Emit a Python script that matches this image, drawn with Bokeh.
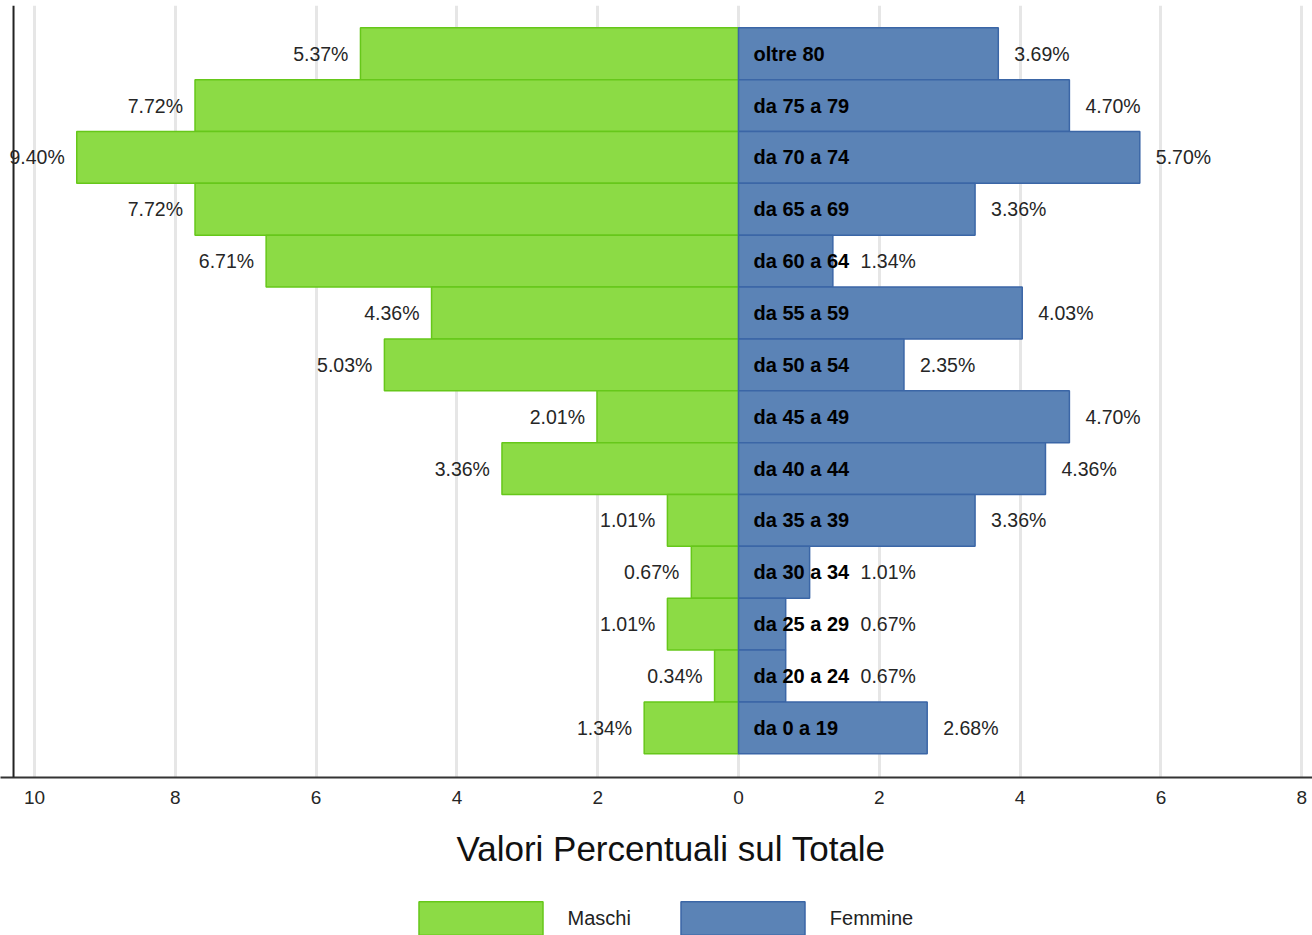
import numpy as np
from bokeh.plotting import figure
from bokeh.layouts import column
from bokeh.models import (ColumnDataSource, FixedTicker, Legend, LegendItem,
                          LabelSet, Range1d, Span)
from bokeh.core.properties import value
from bokeh.embed import file_html
from bokeh.resources import INLINE

# ---- data (top to bottom as in the chart) ----
categories = ["oltre 80", "da 75 a 79", "da 70 a 74", "da 65 a 69", "da 60 a 64",
              "da 55 a 59", "da 50 a 54", "da 45 a 49", "da 40 a 44", "da 35 a 39",
              "da 30 a 34", "da 25 a 29", "da 20 a 24", "da 0 a 19"]
maschi = [5.37, 7.72, 9.40, 7.72, 6.71, 4.36, 5.03, 2.01, 3.36, 1.01, 0.67, 1.01, 0.34, 1.34]
femmine = [3.69, 4.70, 5.70, 3.36, 1.34, 4.03, 2.35, 4.70, 4.36, 3.36, 1.01, 0.67, 0.67, 2.68]
tick_values = [-10, -8, -6, -4, -2, 0, 2, 4, 6, 8]
tick_labels = ["10", "8", "6", "4", "2", "0", "2", "4", "6", "8"]
series_names = ["Maschi", "Femmine"]
axis_title = "Valori Percentuali sul Totale"

# ---- layout / style constants ----
X_START, X_END = -10.483, 8.153
AXIS_X = -10.298          # where the left axis line sits
F_LABEL_MIN = 1.506       # right-side labels are kept clear of the category names
FONT = "Liberation Sans"
GREEN = "#8cdb45"
GREEN_LINE = "#66c71a"
BLUE = "#5b83b6"
BLUE_LINE = "#3b66a6"

n = len(categories)
ypos = [n - 1 - i for i in range(n)]

src = ColumnDataSource(dict(
    y=ypos,
    cat=categories,
    m_left=[-v for v in maschi],
    m_zero=[0] * n,
    f_right=femmine,
    f_lab_x=[max(v, F_LABEL_MIN) for v in femmine],
    m_lab=["%.2f%%" % v for v in maschi],
    f_lab=["%.2f%%" % v for v in femmine],
))

p = figure(frame_width=1312, frame_height=772, output_backend="svg",
           toolbar_location=None,
           x_range=Range1d(X_START, X_END), y_range=Range1d(-0.957, 13.93),
           min_border_left=0, min_border_right=0, min_border_top=5,
           min_border_bottom=103)
p.outline_line_color = None
p.background_fill_color = "white"
p.border_fill_color = "white"

bar_m = dict(fill_color=GREEN, line_color=GREEN_LINE, line_width=1.5)
bar_f = dict(fill_color=BLUE, line_color=BLUE_LINE, line_width=1.5)

p.hbar(y="y", left="m_left", right="m_zero", height=1, source=src, **bar_m)
p.hbar(y="y", left="m_zero", right="f_right", height=1, source=src, **bar_f)

# left axis line
p.add_layout(Span(location=AXIS_X, dimension="height", line_color="#222222",
                  line_width=2))

# labels
p.add_layout(LabelSet(x="m_left", y="y", text="m_lab", source=src, x_offset=-12,
                      text_align="right", text_baseline="middle",
                      text_font=value(FONT), text_font_size="19.5px", text_color="#262626"))
p.add_layout(LabelSet(x="f_lab_x", y="y", text="f_lab", source=src, x_offset=16,
                      text_align="left", text_baseline="middle",
                      text_font=value(FONT), text_font_size="19.5px", text_color="#262626"))
p.add_layout(LabelSet(x="m_zero", y="y", text="cat", source=src, x_offset=15,
                      text_align="left", text_baseline="middle",
                      text_font=value(FONT), text_font_size="20px",
                      text_font_style="bold", text_color="black"))

# x axis
p.xaxis.ticker = FixedTicker(ticks=tick_values)
p.xaxis.major_label_overrides = dict(zip(tick_values, tick_labels))
p.xaxis.major_tick_in = 0
p.xaxis.major_tick_out = 0
p.xaxis.minor_tick_line_color = None
p.xaxis.axis_line_color = "#333333"
p.xaxis.axis_line_width = 2
p.xaxis.major_label_standoff = 13
p.xaxis.major_label_text_font = FONT
p.xaxis.major_label_text_font_size = "19px"
p.xaxis.major_label_text_color = "#262626"
p.xaxis.axis_label = "\u00a0\u00a0\u00a0" + axis_title
p.xaxis.axis_label_text_font = FONT
p.xaxis.axis_label_text_font_size = "35px"
p.xaxis.axis_label_text_font_style = "normal"
p.xaxis.axis_label_text_color = "#111111"
p.xaxis.axis_label_standoff = 22

p.yaxis.visible = False

p.xgrid.ticker = FixedTicker(ticks=tick_values)
p.xgrid.grid_line_color = "#e6e6e6"
p.xgrid.grid_line_width = 3
p.ygrid.grid_line_color = None

# ---- legend strip: key renderers hold a single empty (NaN) row ----
lg = figure(width=1312, height=55, output_backend="svg", toolbar_location=None,
            x_range=Range1d(0, 1), y_range=Range1d(0, 1),
            min_border_left=0, min_border_right=0, min_border_top=0,
            min_border_bottom=0)
lg.axis.visible = False
lg.grid.visible = False
lg.outline_line_color = None
lg.border_fill_color = "white"
lg.background_fill_color = "white"
key_src = ColumnDataSource(dict(y=np.array([np.nan]), left=np.array([np.nan]),
                                right=np.array([np.nan])))
k_m = lg.hbar(y="y", left="left", right="right", height=1, source=key_src, **bar_m)
k_f = lg.hbar(y="y", left="left", right="right", height=1, source=key_src, **bar_f)

legend = Legend(items=[LegendItem(label=series_names[0], renderers=[k_m]),
                       LegendItem(label=series_names[1], renderers=[k_f])],
                orientation="horizontal", location=(402.5, -4.25),
                glyph_width=155, glyph_height=42, label_standoff=10, spacing=34,
                padding=0, margin=0, border_line_color=None,
                background_fill_alpha=0,
                label_text_font=FONT, label_text_font_size="20px",
                label_text_color="#222222")
lg.add_layout(legend)

layout = column(p, lg, spacing=0)
open("out.html", "w").write(file_html(layout, INLINE))
